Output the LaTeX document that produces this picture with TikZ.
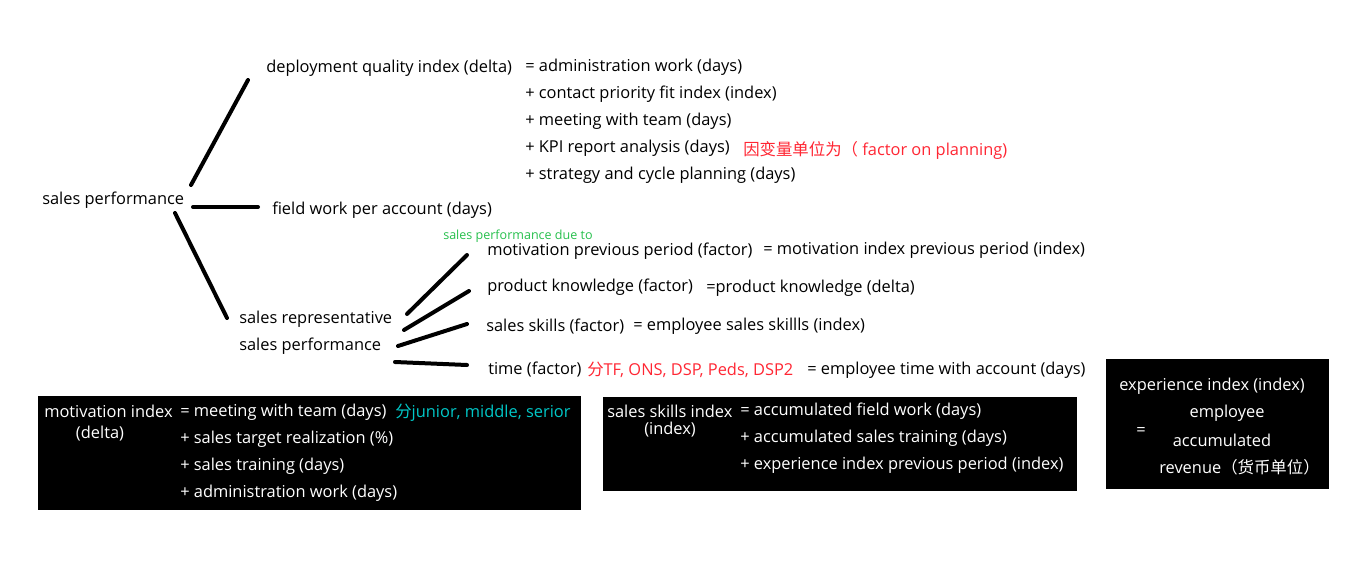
\documentclass[tikz,border=0pt]{standalone}
\usepackage{fontspec}
\setmainfont{Open Sans}
\newfontfamily\cjk{Noto Sans CJK SC}
\definecolor{ffqqqq}{rgb}{1.,0.15,0.2}
\definecolor{qqccqq}{rgb}{0.15,0.75,0.3}
\definecolor{qqcccc}{rgb}{0.,0.78,0.78}
\tikzset{
  txt/.style={anchor=west,inner sep=0pt,yshift=-1.2pt,font=\fontsize{12.3}{14}\selectfont},
  ctxt/.style={txt,anchor=center},
  wtxt/.style={txt,text=white},
  cwtxt/.style={ctxt,text=white},
  branch/.style={line width=3pt,line cap=round}
}
\begin{document}
\begin{tikzpicture}[line cap=round,line join=round,x=0.75pt,y=-0.75pt]
        \useasboundingbox (0,0) rectangle (1355,560);
        % tree of factors
        \draw (42,199) node[txt] (sp) {sales performance};
        \draw (266,67) node[txt] (dqi) {deployment quality index (delta)};
        \draw (525,66) node[txt] (dq1) {= administration work (days)};
        \draw (525,93) node[txt] (dq2) {+ contact priority fit index (index)};
        \draw (525,120) node[txt] (dq3) {+ meeting with team (days)};
        \draw (525,147) node[txt] (dq4) {+ KPI report analysis (days)};
        \draw (743,149) node[txt,text=ffqqqq] (dqnote) {{\cjk 因变量单位为（} factor on planning)};
        \draw (525,174) node[txt] (dq5) {+ strategy and cycle planning (days)};
        \draw (272,209) node[txt] (fw) {field work per account (days)};
        \draw (239,318) node[txt] (sr1) {sales representative};
        \draw (239,345) node[txt] (sr2) {sales performance};
        \draw (443,235) node[txt,text=qqccqq,font=\fontsize{9.4}{11}\selectfont] (due) {sales performance due to};
        \draw (487,250) node[txt] (mp) {motivation previous period (factor)};
        \draw (763,249) node[txt] (mpe) {= motivation index previous period (index)};
        \draw (487,286) node[txt] (pk) {product knowledge (factor)};
        \draw (706,287) node[txt] (pke) {=product knowledge (delta)};
        \draw (486,325) node[txt] (ss) {sales skills (factor)};
        \draw (633,325) node[txt] (sse) {= employee sales skillls (index)};
        \draw (488,368) node[txt] (tf) {time (factor)};
        \draw (587,368) node[txt,text=ffqqqq] (tfnote) {{\cjk 分}TF, ONS, DSP, Peds, DSP2};
        \draw (807,369) node[txt] (tfe) {= employee time with account (days)};
        % branch ends
        \coordinate (a1) at (191,185); \coordinate (a2) at (248,80);
        \coordinate (b1) at (193,207); \coordinate (b2) at (258,207);
        \coordinate (c1) at (175,213); \coordinate (c2) at (227,318);
        \coordinate (d1) at (407,314); \coordinate (d2) at (467,255);
        \coordinate (e1) at (404,330); \coordinate (e2) at (469,291);
        \coordinate (f1) at (398,346); \coordinate (f2) at (467,324);
        \coordinate (g1) at (395,362); \coordinate (g2) at (467,365);
        \draw [branch] (a1)-- (a2);
        \draw [branch] (b1)-- (b2);
        \draw [branch] (c1)-- (c2);
        \draw [branch] (d1)-- (d2);
        \draw [branch] (e1)-- (e2);
        \draw [branch] (f1)-- (f2);
        \draw [branch] (g1)-- (g2);
        % black boxes
        \fill [black] (38,396) rectangle (581,510);
        \draw (44,410) node[wtxt] (mi) {motivation index};
        \draw (100,432) node[cwtxt] (mid) {(delta)};
        \draw (180,411) node[wtxt] (mi1) {= meeting with team (days)};
        \draw (395,411) node[txt,text=qqcccc] (minote) {{\cjk 分}junior, middle, serior};
        \draw (180,438) node[wtxt] (mi2) {+ sales target realization (\%)};
        \draw (180,465) node[wtxt] (mi3) {+ sales training (days)};
        \draw (180,492) node[wtxt] (mi4) {+ administration work (days)};
        \fill [black] (603,397) rectangle (1077,491);
        \draw (607,410) node[wtxt] (ssi) {sales skills index};
        \draw (670,428) node[cwtxt] (ssid) {(index)};
        \draw (740,410) node[wtxt] (ssi1) {= accumulated field work (days)};
        \draw (740,437) node[wtxt] (ssi2) {+ accumulated sales training (days)};
        \draw (740,464) node[wtxt] (ssi3) {+ experience index previous period (index)};
        \fill [black] (1106,359) rectangle (1329,489);
        \draw (1119,385) node[wtxt] (ei) {experience index (index)};
        \draw (1227,412) node[cwtxt] (ei1) {employee};
        \draw (1141,430) node[cwtxt] (eieq) {=};
        \draw (1222,439) node[cwtxt] (ei2) {accumulated};
        \draw (1159,466) node[wtxt] (ei3) {revenue{\cjk（货币单位）}};
\end{tikzpicture}
\end{document}
